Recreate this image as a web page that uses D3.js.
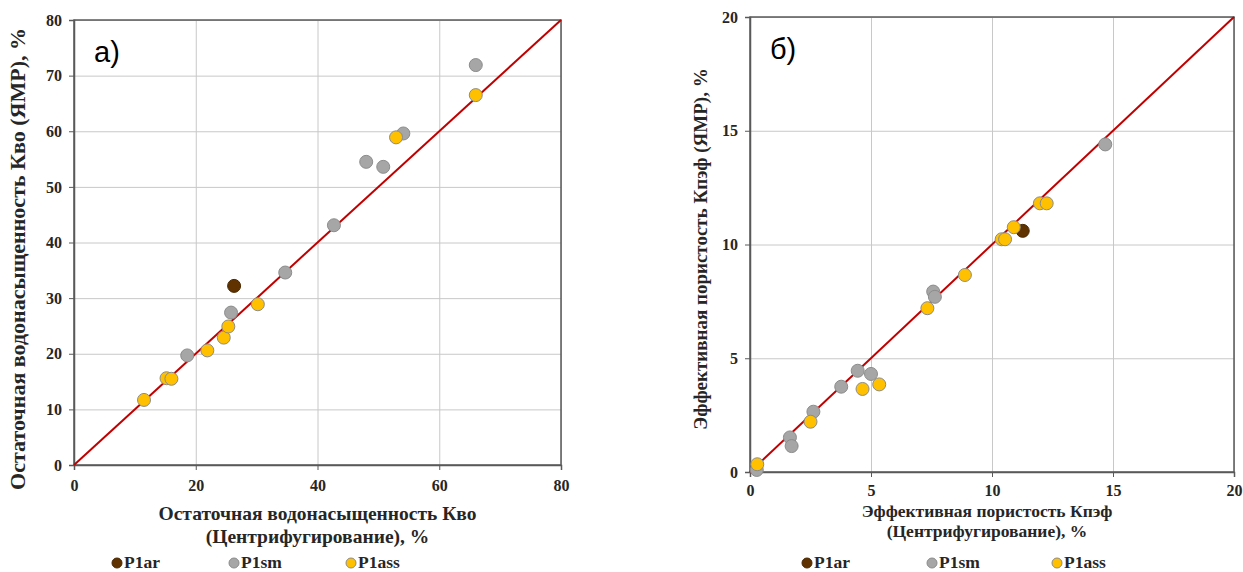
<!DOCTYPE html>
<html>
<head>
<meta charset="utf-8">
<script src="https://cdn.jsdelivr.net/npm/d3@7"></script>
<style>
  body { margin: 0; background: #fff; }
  svg text { font-family: "Liberation Serif", "Times New Roman", serif; font-weight: bold; fill: #262626; }
</style>
</head>
<body>
<div class="canvas"></div>
<script>
// series names and colours
const seriesNames = ['P1ar', 'P1sm', 'P1ass'];
const seriesColors = ['#5f3200', '#a6a6a6', '#ffc000'];

// panel a) : residual water saturation, [centrifuge, NMR]
const kvoAr = [[26.3, 32.2]];
const kvoSm = [[18.6, 19.7], [25.8, 27.4], [34.7, 34.6], [42.7, 43.1], [48.0, 54.5],
  [50.8, 53.6], [54.1, 59.6], [66.0, 71.9]];
const kvoAss = [[11.5, 11.7], [15.2, 15.6], [16.0, 15.5], [21.9, 20.6], [24.6, 22.9],
  [25.35, 24.9], [30.2, 28.9], [52.9, 58.9], [66.0, 66.5]];
const kvoTicks = [0, 20, 40, 60, 80];
const kvoYTicks = [0, 10, 20, 30, 40, 50, 60, 70, 80];

// panel б) : effective porosity, [centrifuge, NMR]
const kpAr = [[11.27, 10.6]];
const kpSm = [[0.28, 0.09], [1.65, 1.52], [1.72, 1.14], [2.62, 2.65], [3.77, 3.75],
  [4.45, 4.45], [5.0, 4.31], [7.57, 7.93], [7.64, 7.7], [14.68, 14.4]];
const kpAss = [[0.3, 0.34], [2.5, 2.21], [4.65, 3.65], [5.34, 3.85], [7.33, 7.2],
  [8.88, 8.66], [10.4, 10.23], [10.54, 10.23], [10.9, 10.76], [11.98, 11.81], [12.26, 11.81]];
const kpTicks = [0, 5, 10, 15, 20];

const svg = d3.select('.canvas')
  .append('svg')
  .attr('width', 1243)
  .attr('height', 572);

// draws one scatter panel
const drawPanel = cfg => {
  const x = d3.scaleLinear().domain(cfg.domain).range([cfg.left, cfg.right]);
  const y = d3.scaleLinear().domain(cfg.domain).range([cfg.bottom, cfg.top]);
  const g = svg.append('g');

  // grid
  g.append('g')
    .attr('transform', `translate(0, ${cfg.bottom})`)
    .call(d3.axisBottom(x).tickValues(cfg.xTicks).tickSize(-(cfg.bottom - cfg.top)).tickFormat(''))
    .call(a => a.select('.domain').remove())
    .selectAll('line').attr('stroke', '#c8c8c8');
  g.append('g')
    .attr('transform', `translate(${cfg.left}, 0)`)
    .call(d3.axisLeft(y).tickValues(cfg.yTicks).tickSize(-(cfg.right - cfg.left)).tickFormat(''))
    .call(a => a.select('.domain').remove())
    .selectAll('line').attr('stroke', '#c8c8c8');

  // frame
  g.append('rect')
    .attr('x', cfg.left).attr('y', cfg.top)
    .attr('width', cfg.right - cfg.left).attr('height', cfg.bottom - cfg.top)
    .attr('fill', 'none').attr('stroke', '#595959').attr('stroke-width', 1.5);

  // axes with tick labels
  const xAxis = g.append('g')
    .attr('transform', `translate(0, ${cfg.bottom})`)
    .call(d3.axisBottom(x).tickValues(cfg.xTicks).tickSize(5).tickPadding(cfg.xPad));
  const yAxis = g.append('g')
    .attr('transform', `translate(${cfg.left}, 0)`)
    .call(d3.axisLeft(y).tickValues(cfg.yTicks).tickSize(5).tickPadding(7));
  [xAxis, yAxis].forEach(a => {
    a.attr('font-family', null).attr('font-size', null);
    a.select('.domain').attr('stroke', '#595959').attr('stroke-width', 1.5);
    a.selectAll('line').attr('stroke', '#595959');
    a.selectAll('text')
      .style('font-family', '"Liberation Serif", serif')
      .attr('font-size', 16)
      .attr('fill', '#262626');
  });

  // 1:1 line
  g.append('line')
    .attr('x1', x(cfg.domain[0])).attr('y1', y(cfg.domain[0]))
    .attr('x2', x(cfg.domain[1])).attr('y2', y(cfg.domain[1]))
    .attr('stroke', '#c00000').attr('stroke-width', 2);

  // points
  cfg.series.forEach((pts, i) => {
    g.append('g').selectAll('circle')
      .data(pts)
      .enter()
      .append('circle')
      .attr('cx', d => x(d[0]))
      .attr('cy', d => y(d[1]))
      .attr('r', 6.5)
      .attr('fill', seriesColors[i])
      .attr('stroke', i === 0 ? '#4a2800' : '#8c8c8c')
      .attr('stroke-width', 1);
  });

  // panel letter
  g.append('text')
    .attr('x', cfg.left + 20).attr('y', cfg.top + 42)
    .style('font-family', '"Liberation Sans", "DejaVu Sans", sans-serif')
    .style('font-weight', 'normal')
    .attr('font-size', 29)
    .style('fill', '#000')
    .text(cfg.letter);

  // axis titles
  const cx = (cfg.left + cfg.right) / 2 + cfg.xTitleShift;
  cfg.xTitle.forEach((t, i) => {
    g.append('text')
      .attr('x', cx).attr('y', cfg.xTitleY + i * cfg.xTitleGap)
      .attr('text-anchor', 'middle')
      .attr('font-size', cfg.xTitleSize)
      .text(t);
  });
  g.append('text')
    .attr('transform', `translate(${cfg.yTitleX}, ${cfg.yTitleMid}) rotate(-90)`)
    .attr('text-anchor', 'middle')
    .attr('font-size', cfg.yTitleSize)
    .text(cfg.yTitle);

  // legend
  seriesNames.forEach((n, i) => {
    const lx = cfg.legendX + i * cfg.legendStep;
    g.append('circle')
      .attr('cx', lx).attr('cy', 563).attr('r', 5)
      .attr('fill', seriesColors[i])
      .attr('stroke', i === 0 ? '#4a2800' : '#8c8c8c');
    g.append('text')
      .attr('x', lx + 7).attr('y', 568)
      .style('font-family', '"Liberation Serif", serif')
      .attr('font-size', 17.5)
      .text(n);
  });
};

drawPanel({
  domain: [0, 80], left: 74, right: 561, top: 20, bottom: 465,
  xTicks: kvoTicks, yTicks: kvoYTicks, xPad: 10,
  series: [kvoAr, kvoSm, kvoAss], letter: 'а)',
  xTitle: ['Остаточная водонасыщенность Кво', '(Центрифугирование), %'],
  xTitleY: 520, xTitleGap: 23, xTitleSize: 19.5, xTitleShift: 0,
  yTitle: 'Остаточная водонасыщенность Кво (ЯМР), %',
  yTitleX: 25, yTitleMid: 259, yTitleSize: 22,
  legendX: 117, legendStep: 117
});

drawPanel({
  domain: [0, 20], left: 750, right: 1234, top: 17, bottom: 472,
  xTicks: kpTicks, yTicks: kpTicks, xPad: 8,
  series: [kpAr, kpSm, kpAss], letter: 'б)',
  xTitle: ['Эффективная пористость Кпэф', '(Центрифугирование), %'],
  xTitleY: 517, xTitleGap: 20, xTitleSize: 17.5, xTitleShift: -5,
  yTitle: 'Эффективная пористость Кпэф (ЯМР), %',
  yTitleX: 707, yTitleMid: 249, yTitleSize: 19,
  legendX: 807, legendStep: 125
});
</script>
</body>
</html>
